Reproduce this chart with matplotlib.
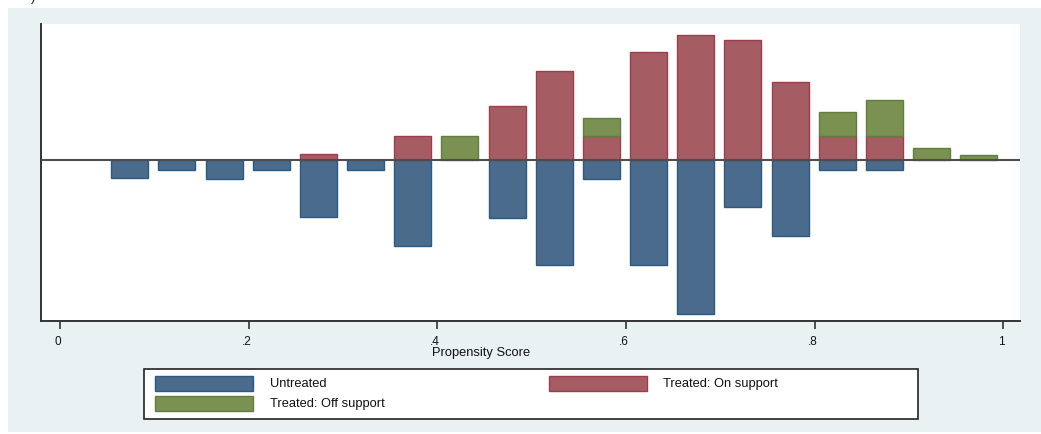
import matplotlib
matplotlib.use("Agg")
import matplotlib.pyplot as plt
from matplotlib.patches import Rectangle
from matplotlib.transforms import ScaledTranslation

# Propensity score bins (bin midpoints) and bar heights per group
bin_mid = [0.074, 0.124, 0.174, 0.224, 0.274, 0.324, 0.374, 0.424, 0.474, 0.524,
           0.574, 0.624, 0.674, 0.724, 0.774, 0.824, 0.874, 0.924, 0.974]
untreated = [18.7, 10.3, 19.0, 10.3, 57.7, 10.3, 86.0, 0.0, 58.0, 105.0,
             19.0, 105.0, 154.0, 47.5, 76.0, 10.3, 10.3, 0.0, 0.0]
treated_on = [0.0, 0.0, 0.0, 0.0, 5.3, 0.0, 23.5, 0.0, 54.0, 89.0,
              23.3, 108.0, 125.0, 120.0, 78.0, 23.3, 23.3, 0.0, 0.0]
treated_off = [0.0, 0.0, 0.0, 0.0, 0.0, 0.0, 0.0, 23.5, 0.0, 0.0,
               18.7, 0.0, 0.0, 0.0, 0.0, 24.0, 36.0, 12.0, 5.0]

xticks = [0, 0.2, 0.4, 0.6, 0.8, 1.0]
xtick_labels = ["0", ".2", ".4", ".6", ".8", "1"]
series_labels = ["Untreated", "Treated: On support", "Treated: Off support"]

C_BLUE, E_BLUE = "#4a6b8b", "#2b5a84"
C_RED, E_RED = "#a55c63", "#9a3f4b"
C_GREEN, E_GREEN = "#7a9152", "#5f7f3e"
BG = "#eaf1f3"
FONT = "Liberation Sans"

W, H = 1041, 435
fig = plt.figure(figsize=(W / 100, H / 100), dpi=100)
fig.patch.set_facecolor("white")


def px_box(x0, y0, x1, y1):
    """Figure-fraction rectangle from pixel corners (origin at top-left)."""
    return (x0 / W, 1 - y1 / H, (x1 - x0) / W, (y1 - y0) / H)


def nonzero(xs, hs, base=None):
    """Keep only bins with a non-empty bar (empty bins draw nothing)."""
    base = base if base is not None else [0.0] * len(hs)
    keep = [i for i, h in enumerate(hs) if h != 0]
    return ([xs[i] for i in keep], [hs[i] for i in keep], [base[i] for i in keep])


# graph region background
g = px_box(8, 9, 1041, 433)
fig.patches.append(Rectangle(g[:2], g[2], g[3], transform=fig.transFigure,
                             facecolor=BG, edgecolor="none", zorder=-5))
# clipped fragment of the panel caption
fig.text(31 / W, 1 - 4 / H, ")", fontsize=10, family=FONT, color="#222222",
         ha="left", va="bottom")

ax = fig.add_axes([41 / W, 1 - 322 / H, (1020 - 41) / W, (322 - 25) / H])
ax.set_zorder(1)
ax.set_facecolor("white")

bw = 0.0392
x, h, _ = nonzero(bin_mid, [-v for v in untreated])
ax.bar(x, h, width=bw, color=C_BLUE, edgecolor=E_BLUE, linewidth=1.0, zorder=2)
x, h, _ = nonzero(bin_mid, treated_on)
ax.bar(x, h, width=bw, color=C_RED, edgecolor=E_RED, linewidth=1.0, zorder=2)
x, h, b0 = nonzero(bin_mid, treated_off, treated_on)
ax.bar(x, h, width=bw, bottom=b0, color=C_GREEN, edgecolor=E_GREEN,
       linewidth=1.0, zorder=2)
ax.axhline(0, color="#4d4d4d", linewidth=1.5, zorder=3)

ax.set_xlim(-0.0201, 1.0177)
ax.set_ylim(-161.4, 135.6)

for s in ("top", "right"):
    ax.spines[s].set_visible(False)
for s in ("left", "bottom"):
    ax.spines[s].set_color("#333333")
    ax.spines[s].set_linewidth(1.4)

ax.set_yticks([])
ax.set_xticks(xticks)
ax.set_xticklabels(xtick_labels, fontsize=8.5, family=FONT, color="#111111")
ax.tick_params(axis="x", direction="out", length=6, width=1.2, color="#333333",
               pad=4)
shift = ScaledTranslation(-2 / 100, 0, fig.dpi_scale_trans)
for lbl in ax.get_xticklabels():
    lbl.set_transform(lbl.get_transform() + shift)

fig.text(481 / W, 1 - 353 / H, "Propensity Score", fontsize=9.3, family=FONT,
         color="#111111", ha="center", va="center")

# legend box
lx0, ly0, lx1, ly1 = 144, 370, 918, 420
b = px_box(lx0, ly0, lx1, ly1)
fig.patches.append(Rectangle(b[:2], b[2], b[3], transform=fig.transFigure,
                             facecolor="white", edgecolor="#222222",
                             linewidth=1.2, zorder=1))
entries = [
    (155, 377, C_BLUE, E_BLUE, 270, series_labels[0]),
    (155, 397, C_GREEN, E_GREEN, 270, series_labels[2]),
    (549, 377, C_RED, E_RED, 663, series_labels[1]),
]
for sx, sy, fc, ec, tx, label in entries:
    r = px_box(sx, sy, sx + 98, sy + 15)
    fig.patches.append(Rectangle(r[:2], r[2], r[3], transform=fig.transFigure,
                                 facecolor=fc, edgecolor=ec, linewidth=1.0,
                                 zorder=2))
    fig.text(tx / W, 1 - (sy + 7) / H, label, fontsize=9.3, family=FONT,
             color="#111111", ha="left", va="center", zorder=3)

fig.savefig("out.png", dpi=100, facecolor=fig.get_facecolor())
